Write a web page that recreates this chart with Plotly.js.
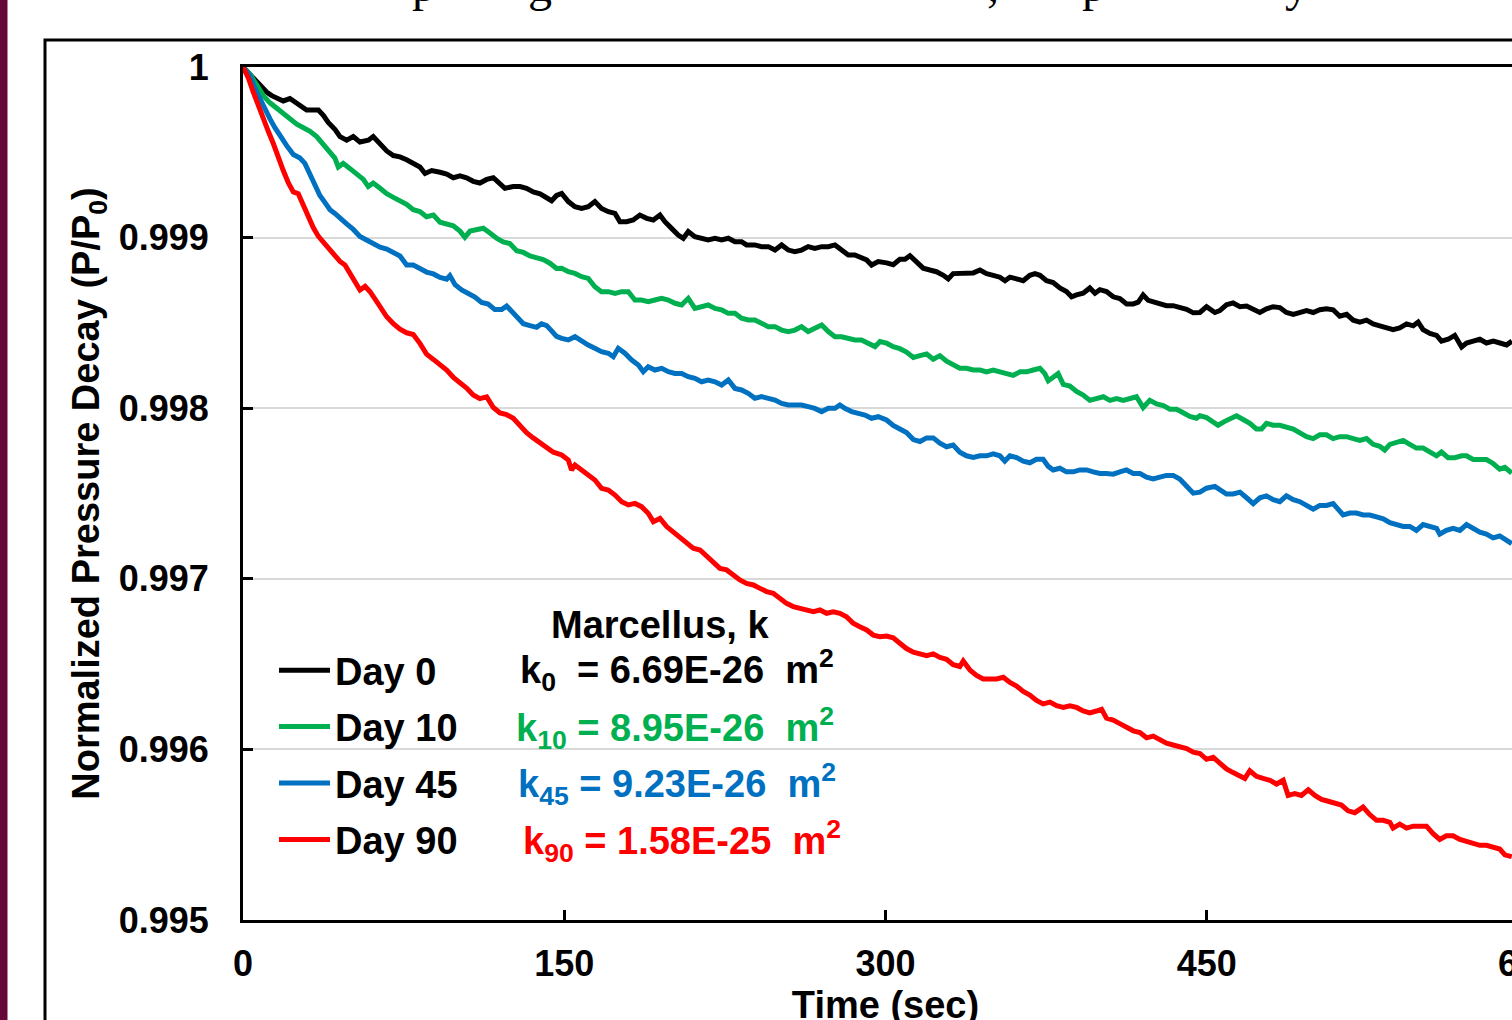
<!DOCTYPE html>
<html>
<head>
<meta charset="utf-8">
<script src="https://cdn.plot.ly/plotly-3.0.1.min.js"></script>
<style>
  html, body { margin: 0; padding: 0; background: #ffffff; overflow: hidden; width: 1512px; height: 1020px; }
  #chart { width: 1560px; height: 1050px; }
</style>
</head>
<body>
<div id="chart"></div>
<script>
// ---- Data ----
const seriesNames = ["Day 0", "Day 10", "Day 45", "Day 90"];
const seriesColors = ["#000000", "#00B050", "#0070C0", "#FF0000"];

const timeDay0 = [0,4.8,7.9,11.0,13.4,15.7,18.8,21.9,24.3,26.6,29.7,32.8,35.2,37.5,39.8,43.0,45.3,48.4,51.5,54.6,58.5,60.8,64.0,67.1,70.2,73.3,76.4,79.5,82.6,85.0,88.1,92.0,95.1,98.2,101.3,104.4,107.5,110.6,113.8,116.9,120.0,122.3,126.2,129.3,132.4,135.5,138.7,141.8,144.1,146.4,
148.8,151.9,155.0,158.1,161.2,164.3,167.4,170.6,173.7,176.0,179.1,182.2,185.3,188.5,191.6,194.7,197.0,200.1,203.2,205.6,207.9,211.0,214.1,217.2,220.4,223.5,226.6,229.7,232.8,235.1,239.0,242.1,245.3,248.4,251.5,254.6,257.7,260.8,263.9,267.0,270.2,273.3,276.4,279.5,282.6,285.7,288.8,291.2,293.5,296.6,
300.5,303.6,306.7,309.1,311.4,314.5,317.6,320.7,323.8,327.0,329.3,331.6,334.7,337.9,341.0,344.1,347.2,350.3,353.4,355.8,358.1,361.2,364.3,367.4,369.8,372.1,375.2,378.3,381.4,384.5,386.9,389.2,392.3,395.4,397.8,400.1,403.2,406.3,409.4,412.6,415.7,418.0,420.3,422.7,425.0,428.1,431.2,434.3,437.4,440.6,443.7,
446.8,449.9,453.8,456.1,459.2,462.3,465.5,468.6,471.7,474.8,477.9,481.0,484.1,487.2,490.4,493.5,496.6,499.7,502.8,505.9,509.0,512.1,515.3,518.4,521.5,524.6,527.7,530.8,533.9,537.0,540.1,543.3,546.4,548.7,551.0,554.2,557.3,559.6,562.7,565.8,569.0,571.3,574.4,577.5,580.6,583.8,586.9,590.0,592.5];
const pDay0 = [1,0.999936,0.999884,0.999853,0.999832,0.999822,0.999801,0.999815,0.999794,0.999769,0.999748,0.999748,0.999748,0.999717,0.999675,0.999633,0.999592,0.999571,0.999592,0.99956,0.999571,0.999592,0.99955,0.999508,0.999481,0.999473,0.999456,0.999435,0.999414,0.999376,0.999393,0.999383,0.999372,0.999351,0.999362,0.999351,0.99933,0.99932,0.999341,0.999351,0.99932,0.999289,0.999299,0.999299,0.999289,0.999268,0.999257,0.999236,0.999216,0.999247,
0.999259,0.999211,0.999181,0.999171,0.999181,0.999211,0.999171,0.999152,0.999142,0.999093,0.999093,0.999103,0.999132,0.999113,0.999103,0.999132,0.999093,0.999054,0.999015,0.998996,0.999035,0.999005,0.998996,0.998986,0.998996,0.998986,0.998996,0.998976,0.998976,0.998957,0.998957,0.998947,0.998947,0.998927,0.998957,0.998927,0.998917,0.998927,0.998947,0.998937,0.998947,0.998947,0.998957,0.998927,0.998898,0.998898,0.998878,0.998869,0.998839,0.998859,
0.998852,0.998841,0.998873,0.998873,0.998894,0.998862,0.998821,0.99881,0.9988,0.998779,0.998758,0.998789,0.998789,0.998789,0.998793,0.99881,0.998789,0.998779,0.998768,0.998747,0.998768,0.998758,0.998747,0.998779,0.998789,0.998779,0.998747,0.998737,0.998705,0.998684,0.998653,0.998664,0.998674,0.998705,0.998674,0.998695,0.998684,0.998653,0.998643,0.998611,0.998611,0.998622,0.998664,0.998632,0.998622,0.998611,0.998601,0.998601,0.99859,0.99858,0.998559,
0.998561,0.998595,0.998561,0.998572,0.998606,0.998617,0.998595,0.998599,0.998583,0.998561,0.998583,0.998595,0.99859,0.998561,0.99855,0.998561,0.998572,0.998561,0.998577,0.998583,0.998577,0.998539,0.99855,0.998516,0.998505,0.998516,0.998494,0.998483,0.998471,0.99846,0.998471,0.998494,0.998483,0.998505,0.99846,0.998438,0.998427,0.998393,0.998404,0.998427,0.998359,0.998382,0.998393,0.998404,0.998382,0.998393,0.998382,0.998371,0.998393];

const timeDay10 = [0,3.3,6.4,9.5,12.6,15.7,18.8,21.9,25.1,28.2,31.3,34.4,37.5,40.6,42.9,44.5,46.8,50.0,53.1,56.2,58.5,60.8,64.0,67.1,70.2,73.3,76.4,79.5,82.6,85.7,88.9,92.0,95.1,98.2,101.3,103.6,106.0,109.1,112.2,115.3,118.4,121.5,124.6,127.8,130.9,134.0,137.1,140.2,143.3,146.4,
148.8,151.9,155.0,158.1,161.2,164.3,167.4,170.6,173.7,176.8,179.9,183.0,186.1,189.2,192.3,195.5,198.6,201.7,204.8,207.9,211.0,214.1,217.2,220.4,223.5,226.6,229.7,232.8,235.9,239.0,242.1,245.3,248.4,251.5,254.6,257.7,260.8,263.9,267.0,270.2,273.3,276.4,279.5,282.6,285.7,288.8,291.9,295.1,
297.4,300.5,303.6,306.7,309.8,313.0,316.1,319.2,322.3,325.4,328.5,331.6,334.7,337.8,341.0,344.1,347.2,350.3,353.4,356.5,359.6,362.8,365.9,369.0,372.1,374.4,376.0,378.3,380.6,383.0,386.1,389.2,392.3,395.4,398.5,401.7,404.8,407.9,411.0,414.1,417.2,420.3,423.4,426.6,429.7,432.8,435.9,439.0,442.1,445.2,
446.8,449.9,453.0,455.3,458.4,461.6,463.9,467.0,470.1,473.2,475.6,477.9,481.0,484.1,487.2,490.4,493.5,496.6,499.7,502.8,505.9,509.0,512.1,515.3,518.4,521.5,524.6,527.7,530.8,533.1,535.5,538.6,541.7,544.8,547.9,551.0,554.2,557.3,559.6,562.7,565.8,569.0,571.3,574.4,577.5,580.6,583.7,586.8,589.2,592.4];
const pDay10 = [1,0.999957,0.999895,0.999832,0.99979,0.999759,0.999728,0.999696,0.999665,0.999644,0.999623,0.999592,0.99955,0.999508,0.999466,0.999414,0.999435,0.999404,0.999372,0.999341,0.999299,0.99932,0.999289,0.999257,0.999236,0.999216,0.999195,0.999163,0.999153,0.999122,0.999132,0.99909,0.99908,0.999069,0.999038,0.999002,0.999038,0.999048,0.999055,0.999027,0.998996,0.998975,0.998965,0.998923,0.998913,0.998892,0.998881,0.998871,0.99885,0.998819,
0.99882,0.9988,0.99879,0.998771,0.998761,0.998712,0.998683,0.998683,0.998673,0.998683,0.998683,0.998634,0.998634,0.998624,0.998634,0.998644,0.998634,0.998615,0.998605,0.998644,0.998585,0.998595,0.998605,0.998585,0.998576,0.998556,0.998556,0.998527,0.998517,0.998517,0.998497,0.998478,0.998478,0.998458,0.998449,0.998458,0.998478,0.998449,0.998468,0.998488,0.998449,0.998419,0.998419,0.998409,0.9984,0.9984,0.99838,0.998361,
0.998391,0.998381,0.99836,0.998349,0.998329,0.998297,0.998308,0.998318,0.998287,0.998308,0.998276,0.998255,0.998234,0.998234,0.998224,0.998224,0.998213,0.998224,0.998213,0.998203,0.998192,0.998213,0.998213,0.998224,0.998234,0.998203,0.998161,0.998182,0.998203,0.99814,0.99813,0.998098,0.998077,0.998046,0.998056,0.998067,0.998046,0.998056,0.998046,0.998056,0.998067,0.998004,0.998046,0.998025,0.998015,0.997994,0.997994,0.997973,0.997952,0.997941,
0.997956,0.997945,0.997923,0.9979,0.997923,0.997945,0.997956,0.997934,0.997911,0.997878,0.997878,0.997911,0.9979,0.9979,0.997889,0.997878,0.997855,0.997833,0.997822,0.997844,0.997844,0.997822,0.997833,0.997833,0.997822,0.997811,0.997822,0.997788,0.997777,0.997755,0.997788,0.997799,0.997811,0.997788,0.997766,0.997766,0.997743,0.997721,0.997743,0.99771,0.99771,0.997721,0.997721,0.997699,0.997699,0.997699,0.997676,0.997643,0.997654,0.99762];

const timeDay45 = [0,3.3,5.6,7.9,10.3,12.6,14.9,17.3,20.4,23.5,26.6,28.9,31.3,33.6,35.9,38.3,40.6,42.9,45.3,48.4,51.5,54.6,57.7,60.8,64.0,67.1,70.2,73.3,76.4,79.5,82.6,85.7,88.9,92.0,95.1,96.6,99.0,102.1,105.2,108.3,111.4,114.5,117.6,120.8,123.1,125.4,127.8,130.9,134.0,137.1,139.4,141.8,144.1,146.4,
148.8,151.9,155.0,158.1,161.2,164.3,167.4,170.6,172.9,175.2,178.3,181.5,184.6,186.9,189.2,192.3,195.5,198.6,201.7,204.8,207.9,211.0,214.1,217.2,220.4,223.5,226.6,229.7,232.8,235.9,239.0,242.1,245.3,248.4,251.5,254.6,257.7,260.8,263.9,267.0,270.2,273.3,276.4,278.7,281.0,284.2,287.3,290.4,293.5,296.6,
300.5,303.6,306.7,309.8,313.0,316.1,319.2,322.3,325.4,328.5,331.6,334.7,337.8,341.0,344.1,347.2,350.3,353.4,355.7,358.1,361.2,364.3,367.4,370.5,373.6,376.0,378.3,381.4,384.5,387.6,390.8,393.9,397.0,400.1,403.2,406.3,409.4,412.5,415.7,418.8,421.9,425.0,428.1,431.2,434.3,437.4,440.6,443.7,
446.8,449.9,453.8,456.1,459.2,462.3,465.5,468.6,471.7,474.8,477.9,481.0,484.1,487.2,490.4,493.5,496.6,499.7,502.8,505.9,509.0,511.4,513.7,516.8,519.9,523.0,526.1,529.3,532.4,535.5,538.6,541.7,544.8,547.9,551.0,554.2,557.3,558.8,561.9,565.0,568.2,571.3,574.4,577.5,580.6,583.7,586.8,590.0,592.4];
const pDay45 = [1,0.999947,0.999874,0.999811,0.999748,0.999696,0.999644,0.999592,0.999539,0.999487,0.999466,0.999435,0.999372,0.99931,0.999247,0.999205,0.999163,0.999142,0.999111,0.99908,0.999048,0.999007,0.998986,0.998965,0.998944,0.998933,0.998913,0.998892,0.998839,0.998839,0.998819,0.998798,0.998787,0.998766,0.998756,0.998777,0.998724,0.998693,0.998672,0.998651,0.99862,0.99861,0.998578,0.998578,0.998599,0.998568,0.998526,0.998495,0.998484,0.998474,0.998495,0.998484,0.998453,0.998421,
0.998409,0.9984,0.998419,0.99839,0.99837,0.998351,0.998331,0.998322,0.998302,0.998351,0.998322,0.998282,0.998253,0.998214,0.998243,0.998224,0.998234,0.998214,0.998204,0.998204,0.998185,0.998175,0.998155,0.998165,0.998155,0.998136,0.998165,0.998116,0.998107,0.998087,0.998058,0.998068,0.998058,0.998048,0.998028,0.998019,0.998019,0.998019,0.998009,0.997999,0.99798,0.997999,0.997999,0.998019,0.997999,0.99798,0.99797,0.99796,0.997941,0.99795,
0.997931,0.997899,0.997878,0.997858,0.997816,0.997805,0.997826,0.997826,0.997795,0.997774,0.997784,0.997742,0.997721,0.997711,0.997721,0.997721,0.997732,0.997721,0.99769,0.997721,0.997711,0.99769,0.99768,0.997701,0.997701,0.997659,0.997638,0.997648,0.997627,0.997627,0.997638,0.997638,0.997627,0.997617,0.997617,0.997613,0.997627,0.997638,0.997617,0.997617,0.997596,0.997585,0.997596,0.997606,0.997606,0.997585,0.997543,0.997502,
0.997508,0.997531,0.997542,0.99752,0.997497,0.997497,0.997508,0.997475,0.997441,0.997475,0.997486,0.997464,0.997452,0.997486,0.997464,0.997452,0.99743,0.997408,0.99743,0.99743,0.997441,0.997408,0.997374,0.997385,0.997385,0.997374,0.997374,0.997363,0.997352,0.997329,0.997318,0.997307,0.997307,0.997284,0.997318,0.997307,0.997296,0.997262,0.997284,0.997296,0.997284,0.997318,0.997296,0.997273,0.997262,0.99724,0.997251,0.997228,0.997206];

const timeDay90 = [0,2.5,4.8,7.2,9.5,11.8,14.2,16.5,18.8,21.2,23.5,25.8,28.2,30.5,32.8,35.2,37.5,39.8,42.2,45.3,47.6,50.0,52.3,54.6,57.0,59.3,61.6,64.0,67.1,70.2,73.3,76.4,79.5,82.6,85.7,88.9,92.0,95.1,98.2,101.3,104.4,107.5,110.6,113.8,116.9,120.0,123.1,126.2,129.3,132.4,135.5,138.7,141.8,144.9,
148.8,151.9,153.4,155.0,158.1,161.2,164.3,167.4,170.6,173.7,176.8,179.9,183.0,186.1,189.2,191.6,194.7,197.8,200.9,204.0,207.1,210.2,213.4,216.5,219.6,222.7,225.8,228.9,232.0,235.1,238.3,241.4,244.5,247.6,250.7,253.8,256.9,260.0,263.2,266.3,269.4,272.5,275.6,278.7,281.8,284.9,288.0,291.2,294.3,297.4,
300.5,303.6,306.7,309.8,313.0,316.1,319.2,322.3,325.4,328.5,331.6,334.7,336.3,339.4,342.5,345.6,348.8,351.9,355.0,358.1,361.2,364.3,367.4,370.5,373.6,376.8,379.9,383.0,386.1,389.2,392.3,395.4,398.5,400.9,403.2,406.3,409.4,412.5,415.7,418.8,421.9,425.0,428.1,431.2,434.3,437.4,440.6,443.7,
446.8,449.9,453.0,456.1,459.2,462.3,465.5,467.8,470.1,473.2,476.3,479.5,482.6,485.7,488.0,491.1,494.2,497.4,500.5,503.6,506.7,509.8,512.9,516.0,519.1,523.0,526.1,529.3,532.4,535.5,537.0,540.1,543.3,546.4,549.5,552.6,555.7,558.8,561.9,565.0,568.2,571.3,574.4,577.5,580.6,583.7,586.8,589.2,592.4];
const pDay90 = [1,0.999936,0.999853,0.999769,0.999696,0.999623,0.99955,0.999466,0.999393,0.99932,0.999268,0.999257,0.999184,0.999122,0.999059,0.999007,0.998975,0.998933,0.998902,0.99886,0.998839,0.998787,0.998735,0.998693,0.998714,0.998683,0.998641,0.998599,0.998536,0.998495,0.998463,0.998442,0.998432,0.99838,0.998317,0.998286,0.998254,0.998223,0.998181,0.99815,0.998118,0.998077,0.998056,0.998066,0.998004,0.997972,0.997962,0.997941,0.997899,0.997857,0.997826,0.997795,0.997763,0.997742,
0.997726,0.997696,0.997638,0.997667,0.997638,0.997608,0.997579,0.99753,0.99752,0.997491,0.997452,0.997433,0.997442,0.997423,0.997384,0.997335,0.997354,0.997306,0.997276,0.997247,0.997208,0.997179,0.997169,0.99713,0.9971,0.997061,0.997052,0.997022,0.996993,0.996973,0.996964,0.996944,0.996925,0.996915,0.996885,0.996856,0.996837,0.996827,0.996817,0.996807,0.996817,0.996798,0.996807,0.996798,0.996778,0.996739,0.996719,0.9967,0.99667,0.996661,
0.996664,0.996654,0.996622,0.996591,0.99657,0.99656,0.996549,0.99656,0.996539,0.996528,0.996497,0.996486,0.996518,0.996465,0.996434,0.996413,0.996413,0.996413,0.996423,0.996392,0.996371,0.99634,0.996319,0.996287,0.996267,0.996277,0.996256,0.996246,0.996256,0.996246,0.996225,0.996214,0.996225,0.996235,0.996183,0.996172,0.996151,0.99613,0.996109,0.996099,0.996068,0.996078,0.996057,0.996036,0.996026,0.996015,0.996005,0.995984,
0.995976,0.995942,0.995954,0.99592,0.995886,0.995864,0.995842,0.99583,0.995875,0.995842,0.99583,0.995819,0.995797,0.995819,0.99573,0.995741,0.99573,0.995763,0.99573,0.995707,0.995696,0.995685,0.995674,0.99564,0.995629,0.995662,0.995618,0.995584,0.995584,0.995573,0.995539,0.995562,0.995539,0.99555,0.99555,0.99555,0.995506,0.995472,0.995494,0.995494,0.995472,0.995461,0.99545,0.995438,0.995438,0.995427,0.995416,0.995382,0.995371];

// permeability labels (legend side text)
const permLabels = [
  "k<sub>0</sub>&nbsp; = 6.69E-26&nbsp; m<sup>2</sup>",
  "k<sub>10</sub> = 8.95E-26&nbsp; m<sup>2</sup>",
  "k<sub>45</sub> = 9.23E-26&nbsp; m<sup>2</sup>",
  "k<sub>90</sub> = 1.58E-25&nbsp; m<sup>2</sup>"
];
const permHeader = "Marcellus, k";
const xTitle = "Time (sec)";
const yTitle = "Normalized Pressure Decay (P/P<sub>0</sub>)";
const titleFragments = ["p", "g", ",", "p", "y"];

// ---- Figure ----
const FONT = "Liberation Sans, Arial, Helvetica, sans-serif";
const xs = [timeDay0, timeDay10, timeDay45, timeDay90];
const ys = [pDay0, pDay10, pDay45, pDay90];

const traces = seriesNames.map((name, i) => ({
  type: "scatter",
  mode: "lines",
  name: name,
  x: xs[i],
  y: ys[i],
  legendgroup: "g" + i,
  line: { color: seriesColors[i], width: 5 },
  hoverinfo: "skip"
}));

// layout geometry helpers (pixel -> paper)
const FW = 1560, FH = 1050;
const ML = 243, MT = 67, PW = 1285, PH = 853;
const px = v => (v - ML) / PW;
const py = v => (MT + PH - v) / PH;

const annotations = [];
annotations.push({
  xref: "paper", yref: "paper", x: px(660), y: py(625), xanchor: "center", yanchor: "middle",
  text: permHeader, showarrow: false,
  font: { family: FONT, size: 38, weight: "bold", color: "#000000" }
});
const permLeft = [518, 514, 516, 521];
const permY = [670, 728, 784, 841];
permLabels.forEach((t, i) => {
  annotations.push({
    xref: "paper", yref: "paper", x: px(permLeft[i]), y: py(permY[i]), xanchor: "left", yanchor: "middle",
    text: t, showarrow: false,
    font: { family: FONT, size: 38, weight: "bold", color: seriesColors[i] }
  });
});
const fragX = [424, 540, 993, 1094, 1297];
titleFragments.forEach((t, i) => {
  annotations.push({
    xref: "paper", yref: "paper", x: px(fragX[i]), y: py(-16), xanchor: "center", yanchor: "middle",
    text: t, showarrow: false,
    font: { family: "Liberation Serif, Times New Roman, serif", size: 48, color: "#000000" }
  });
});

const layout = {
  width: FW,
  height: FH,
  margin: { l: ML, r: FW - ML - PW, t: MT, b: FH - MT - PH, pad: 0 },
  paper_bgcolor: "#ffffff",
  plot_bgcolor: "#ffffff",
  font: { family: FONT, color: "#000000" },
  showlegend: true,
  legend: {
    x: px(274), y: py(639), xanchor: "left", yanchor: "top",
    bgcolor: "rgba(0,0,0,0)", borderwidth: 0,
    font: { family: FONT, size: 38, weight: "bold", color: "#000000" },
    itemwidth: 51, tracegroupgap: 4, traceorder: "grouped"
  },
  xaxis: {
    range: [0, 600], tick0: 0, dtick: 150,
    showgrid: false, zeroline: false,
    showline: true, linecolor: "#000000", linewidth: 3, mirror: true,
    ticks: "inside", ticklen: 10, tickwidth: 3, tickcolor: "#000000",
    ticklabelstandoff: 10,
    tickfont: { family: FONT, size: 36, weight: "bold", color: "#000000" },
    title: { text: xTitle, font: { family: FONT, size: 38, weight: "bold", color: "#000000" }, standoff: 4 }
  },
  yaxis: {
    range: [0.995, 1], tick0: 0.995, dtick: 0.001,
    showgrid: true, gridcolor: "#D9D9D9", gridwidth: 2,
    zeroline: false,
    showline: true, linecolor: "#000000", linewidth: 3, mirror: true,
    ticks: "inside", ticklen: 10, tickwidth: 3, tickcolor: "#000000",
    ticklabelstandoff: 24,
    tickfont: { family: FONT, size: 36, weight: "bold", color: "#000000" },
    title: { text: yTitle, font: { family: FONT, size: 38, weight: "bold", color: "#000000" }, standoff: 8 }
  },
  shapes: [
    { type: "rect", xref: "paper", yref: "paper", layer: "below",
      x0: px(45), x1: 1.3, y0: -0.4, y1: py(40),
      line: { color: "#000000", width: 3 }, fillcolor: "rgba(0,0,0,0)" },
    { type: "rect", xref: "paper", yref: "paper", layer: "above",
      x0: px(0), x1: px(7.5), y0: -0.2, y1: 1.2,
      line: { width: 0 }, fillcolor: "#66073A" }
  ],
  annotations: annotations,
  hovermode: false
};

Plotly.newPlot("chart", traces, layout, { staticPlot: true, displayModeBar: false });
</script>
</body>
</html>
